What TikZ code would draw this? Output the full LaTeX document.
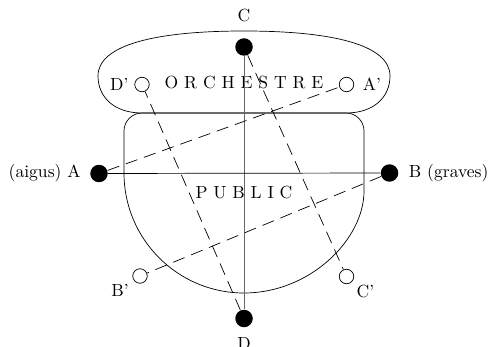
\documentclass[tikz,border=0pt]{standalone}
\usepackage{tikz}
\usetikzlibrary{positioning}

\begin{document}
\begin{tikzpicture}[
        x=0.02cm, y=-0.02cm,
        dot/.style={circle, fill=black, inner sep=0pt, minimum size=3.5mm},
        ring/.style={circle, draw, fill=white, inner sep=0pt, minimum size=2.9mm},
        lbl/.style={inner sep=0pt},
        room/.style={draw},
        axis/.style={draw, black!60},
        link/.style={draw, dash pattern=on 7pt off 4pt}
    ]
    \useasboundingbox (0,0) rectangle (489,347);

    % Orchestre
    \path[room] (142,113) .. controls (114,113) and (98,97) .. (98,76)
        .. controls (98,45) and (155,31) .. (244,31)
        .. controls (333,31) and (390,45) .. (390,76)
        .. controls (390,97) and (374,113) .. (346,113) -- cycle;
    \node (orch) at (244,83) {O R C H E S T R E};

    % Public
    \path[room, rounded corners=3.6mm] (124,173) -- (124,113) -- (364,113) -- (364,173)
        arc[start angle=0, end angle=180, radius=120];
    \node (pub) at (244,192) {P U B L I C};

    % Points
    \node[dot] (C) at (244,47) {};
    \node[dot] (D) at (244,318.5) {};
    \node[dot] (A) at (99,173.5) {};
    \node[dot] (B) at (389.5,173) {};
    \node[ring] (Dp) at (142,84.5) {};
    \node[ring] (Ap) at (346.5,84.5) {};
    \node[ring] (Bp) at (140,276) {};
    \node[ring] (Cp) at (346.5,276.5) {};

    \node[lbl, above=3.1mm of C] (Clbl) {C};
    \node[lbl, below=2mm of D] (Dlbl) {D};
    \node[lbl, left=1.8mm of A] (Albl) {(aigus) A};
    \node[lbl, right=2mm of B] (Blbl) {B (graves)};
    \node[lbl, left=1.1mm of Dp] (Dplbl) {D'};
    \node[lbl, right=1.7mm of Ap] (Aplbl) {A'};
    \node[lbl, below left=0.6mm and 1.1mm of Bp] (Bplbl) {B'};
    \node[lbl, below right=0.6mm and 0.9mm of Cp] (Cplbl) {C'};

    % Axes
    \path[axis] (C) -- (D);
    \path[draw] (A) -- (B);
    \path[link] (A) -- (Ap);
    \path[link] (B) -- (Bp);
    \path[link] (C) -- (Cp);
    \path[link] (D) -- (Dp);
\end{tikzpicture}
\end{document}
